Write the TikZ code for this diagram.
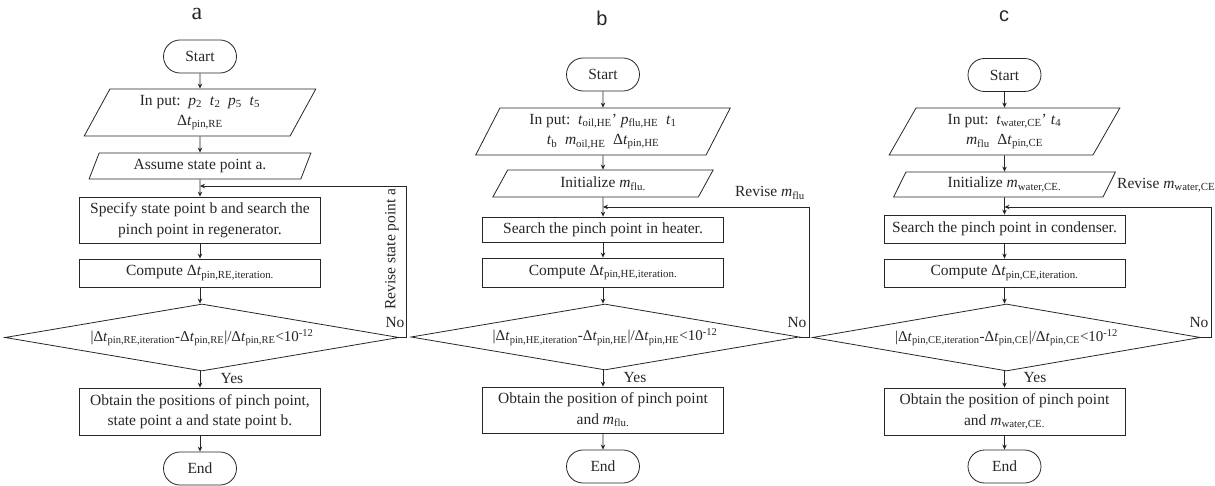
\documentclass[tikz,border=0pt]{standalone}
\usepackage{fontspec}
\setmainfont{Liberation Serif}
\newfontfamily\lsans{Liberation Sans}
\usetikzlibrary{shapes.geometric,shapes.misc,arrows.meta}
\newcommand{\dt}[1]{Δ\textit{t}\textsubscript{#1}}
\newcommand{\vr}[2]{\textit{#1}\textsubscript{#2}}
\tikzset{
  base/.style={draw=black!85, line width=0.8pt, inner sep=0pt, align=center, text=black!85},
  term/.style={base, rounded rectangle, minimum width=73pt, minimum height=33pt},
  io/.style={base, trapezium, trapezium left angle=64, trapezium right angle=116, trapezium stretches=true},
  box/.style={base, rectangle, minimum width=241pt},
  dia/.style={base, diamond, aspect=5.9},
  lbl/.style={inner sep=0pt, text=black!85},
  arr/.style={draw=black!85, line width=0.8pt, -{Stealth[length=5pt,width=4.5pt]}},
  cond/.style={font=\fontsize{15}{17}\selectfont}
}
\begin{document}
\begin{tikzpicture}[x=1pt,y=-1pt,font=\fontsize{15.5}{20.5}\selectfont]
\useasboundingbox (0,0) rectangle (1215,486);
% ---------- panel a ----------
\node[lbl,font=\fontsize{24}{26}\selectfont] (la) at (197,14) {a};
\node[term] (sa) at (200,56.5) {Start};
\node[io, minimum width=232pt, minimum height=47pt] (ia) at (200,112.5) {In put:\ \ \vr{p}{2}\ \ \vr{t}{2}\ \ \vr{p}{5}\ \ \vr{t}{5}\\ \dt{pin,RE}};
\node[io, minimum width=222pt, minimum height=26pt] (aa) at (200,166) {Assume state point a.};
\node[box, minimum height=46pt] (pa) at (200,220) {Specify state point b and search the\\pinch point in regenerator.};
\node[box, minimum height=28pt] (ca) at (200,273) {Compute \dt{pin,RE,iteration.}};
\node[dia, cond, minimum width=394pt, minimum height=67pt] (da) at (202,337.5) {|\dt{pin,RE,iteration}-\dt{pin,RE}|/\dt{pin,RE}<10\textsuperscript{-12}};
\node[box, minimum height=47pt] (oa) at (200,411.5) {Obtain the positions of pinch point,\\state point a and state point b.};
\node[term] (ea) at (200,468.5) {End};
\coordinate (ja) at (200,186);
\coordinate (ra) at (406,186);
\node[lbl] (ya) at (232,378) {Yes};
\node[lbl] (na) at (395,323) {No};
\node[lbl, rotate=90] (va) at (392,249) {Revise state point a};
\draw[arr] (sa) -- (ia);
\draw[arr] (ia) -- (aa);
\draw[arr] (aa) -- (pa);
\draw[arr] (pa) -- (ca);
\draw[arr] (ca.south) -- (ca.south |- da.north);
\draw[arr] (da.south -| oa.north) -- (oa.north);
\draw[arr] (oa) -- (ea);
\draw[arr] (da.east) -| (ra) -- (ja);
% ---------- panel b ----------
\node[lbl,font=\lsans\fontsize{20}{22}\selectfont] (lb) at (602,18) {b};
\node[term] (sb) at (603,74.5) {Start};
\node[io, minimum width=255pt, minimum height=47pt] (ib) at (603,131.5) {In put:\ \ \vr{t}{oil,HE}’\ \vr{p}{flu,HE}\ \ \vr{t}{1}\\ \vr{t}{b}\ \ \vr{m}{oil,HE}\ \ \dt{pin,HE}};
\node[io, minimum width=221pt, minimum height=27pt] (nb) at (603,183.5) {Initialize \vr{m}{flu.}};
\node[box, minimum height=25pt] (qb) at (603,229.5) {Search the pinch point in heater.};
\node[box, minimum height=29pt] (cb) at (603,272.5) {Compute \dt{pin,HE,iteration.}};
\node[dia, cond, minimum width=388pt, minimum height=66pt] (db) at (605,337) {|\dt{pin,HE,iteration}-\dt{pin,HE}|/\dt{pin,HE}<10\textsuperscript{-12}};
\node[box, minimum height=46pt] (ob) at (603,410) {Obtain the position of pinch point\\and \vr{m}{flu.}};
\node[term] (eb) at (603,466.5) {End};
\coordinate (jb) at (603,207);
\coordinate (rb) at (809,207);
\node[lbl] (yb) at (635,377) {Yes};
\node[lbl] (nb2) at (797,323) {No};
\node[lbl] (vb) at (770,193) {Revise \vr{m}{flu}};
\draw[arr] (sb) -- (ib);
\draw[arr] (ib) -- (nb);
\draw[arr] (nb) -- (qb);
\draw[arr] (qb) -- (cb);
\draw[arr] (cb.south) -- (cb.south |- db.north);
\draw[arr] (db.south -| ob.north) -- (ob.north);
\draw[arr] (ob) -- (eb);
\draw[arr] (db.east) -| (rb) -- (jb);
% ---------- panel c ----------
\node[lbl,font=\lsans\fontsize{20}{22}\selectfont] (lc) at (1004,16) {c};
\node[term] (sc) at (1004.5,75) {Start};
\node[io, minimum width=231pt, minimum height=47pt] (ic) at (1004.5,131.5) {In put:\ \ \vr{t}{water,CE}’\ \vr{t}{4}\\ \vr{m}{flu}\ \ \dt{pin,CE}};
\node[io, minimum width=222pt, minimum height=25pt] (nc) at (1004.5,184.5) {Initialize \vr{m}{water,CE.}};
\node[box, minimum height=28pt] (qc) at (1004.5,229) {Search the pinch point in condenser.};
\node[box, minimum height=28pt] (cc) at (1004.5,273) {Compute \dt{pin,CE,iteration.}};
\node[dia, cond, minimum width=388pt, minimum height=67pt] (dc) at (1006.5,337.5) {|\dt{pin,CE,iteration}-\dt{pin,CE}|/\dt{pin,CE}<10\textsuperscript{-12}};
\node[box, minimum height=47pt] (oc) at (1004.5,411.5) {Obtain the position of pinch point\\and \vr{m}{water,CE.}};
\node[term] (ec) at (1004.5,466.5) {End};
\coordinate (jc) at (1004.5,207);
\coordinate (rc) at (1211,207);
\node[lbl] (yc) at (1035,377) {Yes};
\node[lbl] (nc2) at (1199,323) {No};
\node[lbl, anchor=west] (vc) at (1117,185) {Revise \vr{m}{water,CE}};
\draw[arr] (sc) -- (ic);
\draw[arr] (ic) -- (nc);
\draw[arr] (nc) -- (qc);
\draw[arr] (qc) -- (cc);
\draw[arr] (cc.south) -- (cc.south |- dc.north);
\draw[arr] (dc.south -| oc.north) -- (oc.north);
\draw[arr] (oc) -- (ec);
\draw[arr] (dc.east) -| (rc) -- (jc);
\end{tikzpicture}
\end{document}
